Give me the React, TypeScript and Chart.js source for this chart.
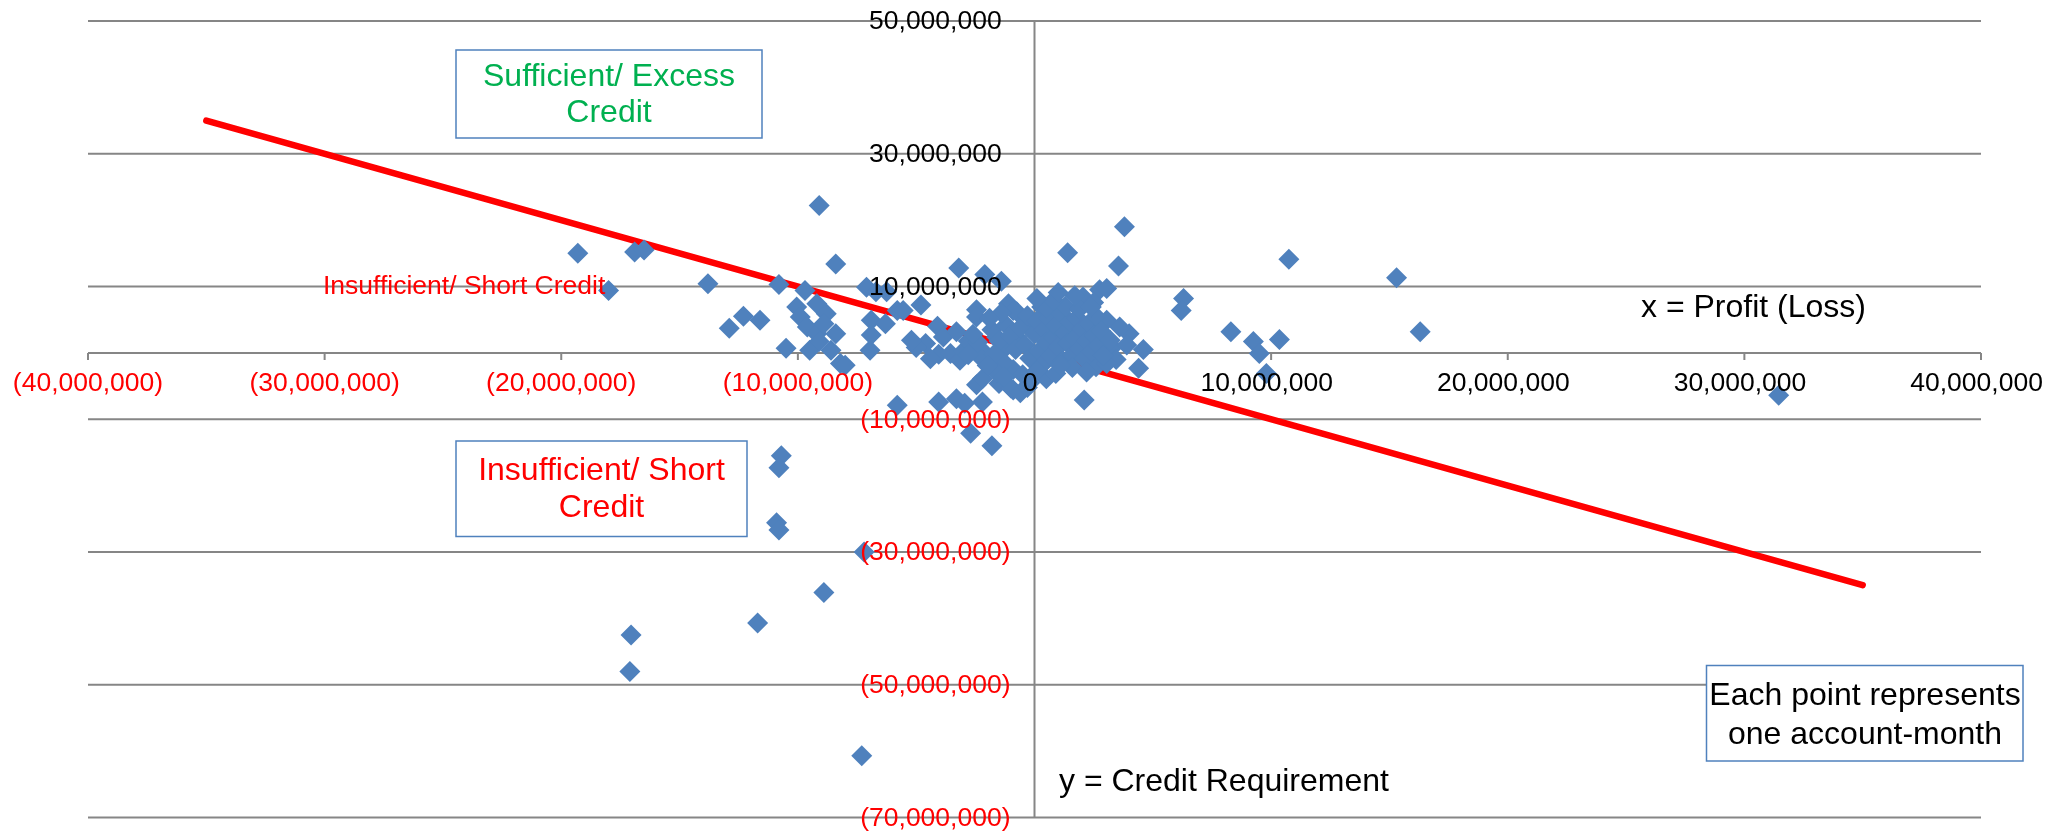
import { useEffect, useRef } from "react";
import { Chart, registerables } from "chart.js";

Chart.register(...registerables);

const FONT = '"Liberation Sans", Arial, Helvetica, sans-serif';

// Axis bounds and ticks
const xBounds = [-40e6, 40e6];
const yBounds = [-70e6, 50e6];
const xTickValues = [-40e6, -30e6, -20e6, -10e6, 0, 10e6, 20e6, 30e6, 40e6];
const xTickLabels = ["(40,000,000)", "(30,000,000)", "(20,000,000)", "(10,000,000)", "0", "10,000,000", "20,000,000", "30,000,000", "40,000,000"];
const yTickValues = [50e6, 30e6, 10e6, -10e6, -30e6, -50e6, -70e6];
const yTickLabels = ["50,000,000", "30,000,000", "10,000,000", "(10,000,000)", "(30,000,000)", "(50,000,000)", "(70,000,000)"];

// Boundary line (credit requirement = -profit)
const boundaryProfit = [-35e6, 35e6];
const boundaryCredit = [35e6, -35e6];

// Each point: [profit (loss), credit requirement]
const accountMonths: [number, number][] = [
  [-19.3e6, 15.0e6], [-18.0e6, 9.4e6], [-16.9e6, 15.2e6], [-16.5e6, 15.5e6],
  [-13.8e6, 10.4e6], [-12.9e6, 3.7e6], [-12.3e6, 5.5e6], [-11.6e6, 4.9e6],
  [-10.8e6, 10.3e6], [-10.5e6, 0.7e6], [-9.7e6, 9.4e6], [-9.1e6, 22.2e6],
  [-8.4e6, 13.4e6], [-10.05e6, 6.9e6], [-9.9e6, 5.4e6], [-9.2e6, 7.4e6],
  [-8.8e6, 5.9e6], [-9.6e6, 3.9e6], [-9.2e6, 2.9e6], [-8.9e6, 4.4e6],
  [-9.5e6, 0.4e6], [-8.6e6, 0.4e6], [-9.1e6, 1.7e6], [-8.2e6, -1.6e6],
  [-8.4e6, 2.9e6], [-7.1e6, 9.9e6], [-6.7e6, 9.2e6], [-6.25e6, 9.2e6],
  [-6.9e6, 4.9e6], [-6.95e6, 0.4e6], [-6.9e6, 2.7e6], [-6.3e6, 4.4e6],
  [-5.8e6, 6.4e6], [-5.55e6, 6.4e6], [-4.8e6, 7.2e6], [-8.0e6, -1.85e6],
  [-5.8e6, -7.9e6], [-4.05e6, -7.4e6], [-3.3e6, -6.9e6], [-2.95e6, -7.6e6],
  [-2.2e6, -7.4e6], [-2.45e6, -4.8e6], [-2.2e6, -3.9e6], [-2.7e6, -12.1e6],
  [-1.8e6, -14.0e6], [-0.9e6, -5.6e6], [-1.5e6, -4.6e6],
  [-10.7e6, -15.5e6], [-10.8e6, -17.3e6], [-10.9e6, -25.6e6], [-10.8e6, -26.7e6],
  [-7.2e6, -30.0e6], [-8.9e6, -36.1e6], [-11.7e6, -40.7e6], [-17.05e6, -42.5e6],
  [-17.1e6, -48.0e6], [-7.3e6, -60.7e6],
  [-3.2e6, 12.8e6], [-2.45e6, 6.5e6], [-2.45e6, 5.4e6], [-2.1e6, 11.8e6],
  [-1.4e6, 10.8e6], [-1.1e6, 7.4e6], [-0.75e6, 6.2e6], [-0.35e6, 4.4e6],
  [-0.75e6, 2.4e6], [-1.6e6, 2.4e6], [-1.2e6, 0.9e6], [-4.1e6, 4.0e6],
  [-4.6e6, 1.4e6], [-4.05e6, -0.2e6], [-3.85e6, 2.4e6], [-3.3e6, 3.2e6],
  [-3.55e6, -0.1e6], [-3.15e6, -1.1e6], [-2.6e6, 0.9e6], [-2.15e6, 0.15e6],
  [-1.9e6, -1.1e6], [-1.45e6, -1.6e6], [-5.0e6, 0.8e6], [-4.4e6, -0.9e6],
  [-3.0e6, 0.3e6], [-2.3e6, -0.6e6], [-2.8e6, 1.8e6], [-5.2e6, 1.9e6],
  [3.8e6, 19.0e6], [1.4e6, 15.1e6], [3.55e6, 13.1e6], [10.75e6, 14.1e6],
  [15.3e6, 11.3e6], [16.3e6, 3.2e6], [6.3e6, 8.2e6], [6.2e6, 6.4e6],
  [8.3e6, 3.2e6], [9.25e6, 1.7e6], [9.5e6, -0.1e6], [10.35e6, 2.0e6],
  [9.8e6, -3.1e6], [31.45e6, -6.4e6], [2.1e6, -7.1e6], [4.6e6, 0.5e6],
  [4.4e6, -2.3e6], [4.0e6, 2.9e6], [3.05e6, 4.9e6], [2.75e6, 9.5e6],
  [2.05e6, 8.4e6], [2.5e6, 7.6e6], [3.05e6, 9.7e6], [3.3e6, 0.9e6],
  [3.45e6, -1.0e6], [2.6e6, -2.1e6], [0.5e6, -3.9e6], [0.3e6, 6.9e6],
  [3.05e6, -1.6e6], [0.85e6, 6.7e6], [1.85e6, 6.7e6], [-0.9e6, 6.4e6],
  [-1.8e6, 3.5e6], [-1.5e6, 1.8e6], [-1.2e6, 4.2e6], [-1.0e6, 2.6e6],
  [-0.8e6, 0.5e6], [-0.6e6, 3.8e6], [-0.4e6, 1.2e6], [-0.3e6, 5.6e6],
  [-0.2e6, -0.8e6], [0.0e6, 2.9e6], [0.1e6, 4.8e6], [0.2e6, 0.3e6],
  [0.3e6, -1.9e6], [0.4e6, 3.4e6], [0.5e6, 1.6e6], [0.6e6, 5.2e6],
  [0.7e6, -0.5e6], [0.8e6, 2.3e6], [0.9e6, 4.1e6], [1.0e6, 0.9e6],
  [1.1e6, 6.0e6], [1.2e6, -1.2e6], [1.3e6, 3.0e6], [1.4e6, 1.5e6],
  [1.5e6, 4.6e6], [1.6e6, -0.3e6], [1.7e6, 2.2e6], [1.8e6, 5.3e6],
  [1.9e6, 0.7e6], [2.0e6, 3.6e6], [2.1e6, -0.9e6], [2.2e6, 1.8e6],
  [2.3e6, 4.3e6], [2.4e6, 0.2e6], [2.5e6, 2.7e6], [2.6e6, 5.5e6],
  [2.7e6, 1.1e6], [2.8e6, 3.3e6], [2.9e6, -0.4e6], [1.3e6, 7.0e6],
  [0.5e6, 6.8e6], [1.9e6, 6.6e6], [-0.9e6, -2.5e6], [-0.5e6, -3.3e6],
  [-1.3e6, -1.4e6], [-1.6e6, -3.0e6], [-0.2e6, -4.5e6], [-1.0e6, -5.3e6],
  [0.1e6, -2.7e6], [-0.6e6, -6.0e6], [-1.7e6, -0.2e6], [-2.4e6, 1.6e6],
  [-2.8e6, -0.3e6], [-2.0e6, -1.9e6], [-2.6e6, 2.8e6], [1.6e6, -2.2e6],
  [2.2e6, -2.9e6], [0.9e6, -3.1e6], [1.1e6, -1.9e6], [-1.4e6, 6.0e6],
  [-1.9e6, 5.2e6], [0.8e6, 7.9e6], [2.4e6, 6.9e6], [3.2e6, 1.9e6],
  [3.6e6, 3.9e6], [3.9e6, 1.2e6], [1.7e6, 8.6e6], [1.0e6, 9.1e6],
  [0.1e6, 8.2e6], [-1.3e6, -3.6e6], [-0.3e6, -5.2e6],
];

const notes = [
  { lines: ["Sufficient/ Excess", "Credit"], color: "#00B050", box: [456, 50, 306, 88], cx: 609, ys: [77, 113.5], size: 32 },
  { lines: ["Insufficient/ Short", "Credit"], color: "#FF0000", box: [456, 441, 291, 95.5], cx: 601.5, ys: [471, 508.5], size: 32 },
  { lines: ["Each point represents", "one account-month"], color: "#000000", box: [1706.5, 665.5, 316.5, 95.5], cx: 1865, ys: [696, 735], size: 32 },
];
const freeTexts = [
  { text: "x = Profit (Loss)", color: "#000000", x: 1641, y: 308.5, size: 32 },
  { text: "y = Credit Requirement", color: "#000000", x: 1059, y: 782, size: 32 },
  { text: "Insufficient/ Short Credit", color: "#FF0000", x: 323, y: 287, size: 26.5 },
];

const GRID = "#868686";

const excelAxes = {
  id: "excelAxes",
  beforeDatasetsDraw(chart: any) {
    const { ctx, chartArea: ca, scales } = chart;
    const xs = scales.x, ys = scales.y;
    const x0 = xs.getPixelForValue(0);
    const y0 = ys.getPixelForValue(0);
    ctx.save();
    ctx.strokeStyle = GRID;
    ctx.lineWidth = 2;
    yTickValues.forEach((v) => {
      const py = ys.getPixelForValue(v);
      ctx.beginPath();
      ctx.moveTo(ca.left, py);
      ctx.lineTo(ca.right, py);
      ctx.stroke();
    });
    ctx.beginPath();
    ctx.moveTo(ca.left, y0);
    ctx.lineTo(ca.right, y0);
    ctx.moveTo(x0, ca.top);
    ctx.lineTo(x0, ca.bottom);
    xTickValues.forEach((v) => {
      const px = xs.getPixelForValue(v);
      ctx.moveTo(px, y0);
      ctx.lineTo(px, y0 + 7);
    });
    ctx.stroke();
    ctx.restore();
  },
  afterDatasetsDraw(chart: any) {
    const { ctx, scales } = chart;
    const xs = scales.x, ys = scales.y;
    const x0 = xs.getPixelForValue(0);
    const y0 = ys.getPixelForValue(0);
    ctx.save();
    ctx.font = `26.5px ${FONT}`;
    ctx.textBaseline = "middle";
    const parenW = ctx.measureText(")").width;
    ctx.textAlign = "center";
    xTickValues.forEach((v, i) => {
      const lbl = xTickLabels[i];
      const neg = lbl.startsWith("(");
      ctx.fillStyle = neg ? "#FF0000" : "#000000";
      ctx.fillText(lbl, xs.getPixelForValue(v) - (neg ? 0 : parenW / 2), y0 + 31);
    });
    ctx.textAlign = "right";
    yTickValues.forEach((v, i) => {
      const lbl = yTickLabels[i];
      const neg = lbl.startsWith("(");
      ctx.fillStyle = neg ? "#FF0000" : "#000000";
      ctx.fillText(lbl, x0 - 24 - (neg ? 0 : parenW), ys.getPixelForValue(v) + 1);
    });
    ctx.restore();
  },
  afterDraw(chart: any) {
    const { ctx } = chart;
    ctx.save();
    ctx.textBaseline = "middle";
    notes.forEach((n) => {
      const [bx, by, bw, bh] = n.box;
      ctx.fillStyle = "#FFFFFF";
      ctx.fillRect(bx, by, bw, bh);
      ctx.strokeStyle = "#4F81BD";
      ctx.lineWidth = 1.5;
      ctx.strokeRect(bx, by, bw, bh);
      ctx.font = `${n.size}px ${FONT}`;
      ctx.fillStyle = n.color;
      ctx.textAlign = "center";
      n.lines.forEach((l, i) => ctx.fillText(l, n.cx, n.ys[i]));
    });
    freeTexts.forEach((t) => {
      ctx.font = `${t.size}px ${FONT}`;
      ctx.fillStyle = t.color;
      ctx.textAlign = "left";
      ctx.fillText(t.text, t.x, t.y);
    });
    ctx.restore();
  },
};

export default function App() {
  const ref = useRef<HTMLCanvasElement>(null);
  useEffect(() => {
    const chart = new Chart(ref.current as HTMLCanvasElement, {
      type: "scatter",
      data: {
        datasets: [
          {
            label: "Account-months",
            data: accountMonths.map(([px, cy]) => ({ x: px, y: cy })),
            pointStyle: "rectRot",
            pointRadius: 10.5,
            pointHoverRadius: 10.5,
            backgroundColor: "#4F81BD",
            borderColor: "#4F81BD",
            borderWidth: 0,
            order: 0,
          },
          {
            type: "line",
            label: "Boundary",
            data: boundaryProfit.map((p, i) => ({ x: p, y: boundaryCredit[i] })),
            borderColor: "#FF0000",
            borderWidth: 6.5,
            borderCapStyle: "round",
            pointRadius: 0,
            fill: false,
            order: 1,
          } as any,
        ],
      },
      options: {
        responsive: false,
        devicePixelRatio: 1,
        animation: false,
        events: [],
        layout: { padding: { left: 88, right: 87, top: 21, bottom: 14.5 } },
        plugins: { legend: { display: false }, tooltip: { enabled: false } },
        scales: {
          x: { type: "linear", min: xBounds[0], max: xBounds[1], display: false },
          y: { type: "linear", min: yBounds[0], max: yBounds[1], display: false },
        },
      },
      plugins: [excelAxes],
    });
    return () => chart.destroy();
  }, []);
  return (
    <div style={{ position: "absolute", left: 0, top: 0, width: 2068, height: 832, background: "#FFFFFF" }}>
      <canvas ref={ref} width={2068} height={832} style={{ display: "block", width: 2068, height: 832 }} />
    </div>
  );
}
